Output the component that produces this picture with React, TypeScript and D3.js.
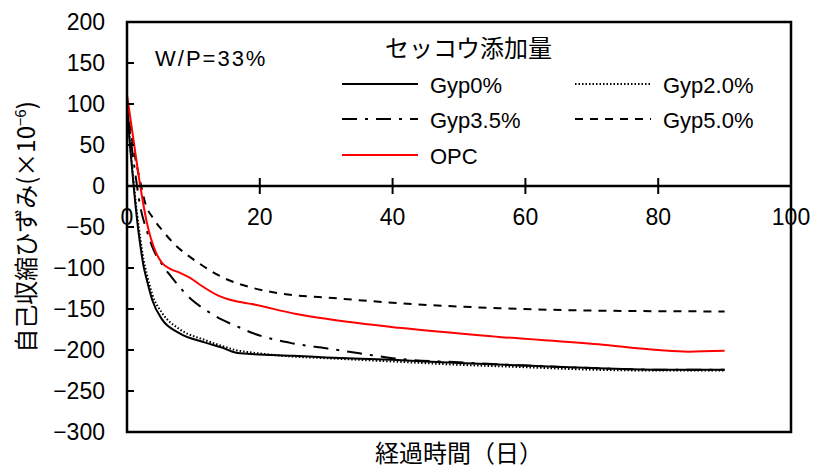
import React from "react";
import * as d3 from "d3";

const xTicks = [0, 20, 40, 60, 80, 100];
const yTicks = [200, 150, 100, 50, 0, -50, -100, -150, -200, -250, -300];

const gyp0Days = [0, 0.5, 1, 1.5, 2, 2.5, 3, 3.8, 5.3, 7.8, 11.8, 14.3, 16.3, 18.8, 25, 30, 40, 50, 60, 70, 80, 90];
const gyp0Vals = [95, 45, 0, -40, -72, -98, -115, -139, -163, -179, -191, -197, -203, -205, -207, -209, -212, -216, -219, -222, -224, -224];

const gyp2Days = [0, 0.5, 1, 1.5, 2, 2.5, 3, 3.8, 5.3, 7.8, 11.8, 14.3, 16.3, 18.8, 25, 30, 40, 50, 60, 70, 80, 90];
const gyp2Vals = [95, 48, 5, -33, -64, -90, -108, -132, -155, -174, -188, -195, -200, -203, -208, -210, -214, -218, -221, -224, -225, -225];

const gyp35Days = [0, 1, 2, 3, 4, 5.3, 6.8, 9.8, 11.8, 14.3, 16.8, 18.8, 25, 30, 35, 40, 50, 60, 70, 80, 90];
const gyp35Vals = [95, 30, -25, -55, -78, -96, -112, -139, -151, -163, -172, -179, -192, -198, -204, -210, -215, -219, -222, -224, -224];

const gyp5Days = [0, 1, 2, 2.75, 4, 5.3, 6.8, 10.8, 14.8, 18.8, 25, 30, 41, 56, 71, 90];
const gyp5Vals = [95, 45, 5, -21, -40, -54, -68, -94, -113, -124, -133, -136, -143, -149, -152, -153];

const opcDays = [0, 1, 2, 3, 4.3, 5.3, 6.5, 8, 9.5, 11.1, 13.6, 16.1, 18.8, 25.5, 30, 41, 56, 71, 80, 84.5, 90];
const opcVals = [111, 55, 0, -45, -80, -94, -101, -106, -112, -121, -133, -140, -144, -156, -162, -173, -184, -193, -200, -202, -201];

const seriesNames = ["Gyp0%", "Gyp2.0%", "Gyp3.5%", "Gyp5.0%", "OPC"];

const W = 815, H = 469;
const x = d3.scaleLinear().domain([0, 100]).range([127, 791]);
const y = d3.scaleLinear().domain([-300, 200]).range([432, 22]);

const series = [
  { name: seriesNames[0], days: gyp0Days, vals: gyp0Vals, color: "#000", dash: undefined as string | undefined },
  { name: seriesNames[1], days: gyp2Days, vals: gyp2Vals, color: "#000", dash: "1.5,2" },
  { name: seriesNames[2], days: gyp35Days, vals: gyp35Vals, color: "#000", dash: "15,8,3,8" },
  { name: seriesNames[3], days: gyp5Days, vals: gyp5Vals, color: "#000", dash: "8,7" },
  { name: seriesNames[4], days: opcDays, vals: opcVals, color: "#ff0000", dash: undefined },
];

const line = d3
  .line<[number, number]>()
  .x((d) => x(d[0]))
  .y((d) => y(d[1]))
  .curve(d3.curveMonotoneX);

const latin = "'Liberation Sans', Arial, sans-serif";
const cjk = "'Noto Sans CJK JP', sans-serif";

export default function App() {
  const y0 = y(0);
  const legendPos = [
    { lx: 342, ty: 84 },
    { lx: 575, ty: 84 },
    { lx: 342, ty: 119 },
    { lx: 575, ty: 119 },
    { lx: 342, ty: 155 },
  ];
  return (
    <svg
      width={W}
      height={H}
      style={{ position: "absolute", left: 0, top: 0, background: "#fff" }}
    >
      <rect x={0} y={0} width={W} height={H} fill="#fff" />
      {series.map((s) => (
        <path
          key={s.name}
          d={line(s.days.map((d, i) => [d, s.vals[i]] as [number, number])) || ""}
          fill="none"
          stroke={s.color}
          strokeWidth={2}
          strokeDasharray={s.dash}
        />
      ))}
      <rect x={127} y={22} width={664} height={410} fill="none" stroke="#000" strokeWidth={2.5} />
      <line x1={x(0)} x2={x(100)} y1={y0} y2={y0} stroke="#000" strokeWidth={2.5} />
      {xTicks.map((t) => (
        <g key={"x" + t}>
          <line x1={x(t)} x2={x(t)} y1={y0 - 8} y2={y0 + 8} stroke="#000" strokeWidth={2} />
          <text x={x(t)} y={y0 + 39} textAnchor="middle" fontFamily={latin} fontSize={23}>
            {t}
          </text>
        </g>
      ))}
      {yTicks.map((t) => (
        <g key={"y" + t}>
          <line x1={127} x2={134} y1={y(t)} y2={y(t)} stroke="#000" strokeWidth={2} />
          <text x={105} y={y(t)} dy="0.36em" textAnchor="end" fontFamily={latin} fontSize={23}>
            {t < 0 ? "\u2212" + Math.abs(t) : String(t)}
          </text>
        </g>
      ))}
      <text x={155} y={66} fontFamily={latin} fontSize={22} letterSpacing={2}>
        W/P=33%
      </text>
      <text x={385} y={57} fontFamily={cjk} fontSize={24}>
        セッコウ添加量
      </text>
      {series.map((s, i) => (
        <g key={"lg" + s.name}>
          <line
            x1={legendPos[i].lx}
            x2={legendPos[i].lx + 76}
            y1={legendPos[i].ty}
            y2={legendPos[i].ty}
            stroke={s.color}
            strokeWidth={2}
            strokeDasharray={s.dash}
          />
          <text x={legendPos[i].lx + 88} y={legendPos[i].ty + 9} fontFamily={latin} fontSize={22}>
            {s.name}
          </text>
        </g>
      ))}
      <text x={459} y={462} textAnchor="middle" fontFamily={cjk} fontSize={24}>
        経過時間（日）
      </text>
      <text
        transform="translate(35,227) rotate(-90)"
        textAnchor="middle"
        fontFamily={cjk}
        fontSize={24}
      >
        自己収縮ひずみ(×10
        <tspan fontSize={15} dy={-9}>
          −6
        </tspan>
        <tspan dy={9}>)</tspan>
      </text>
    </svg>
  );
}
